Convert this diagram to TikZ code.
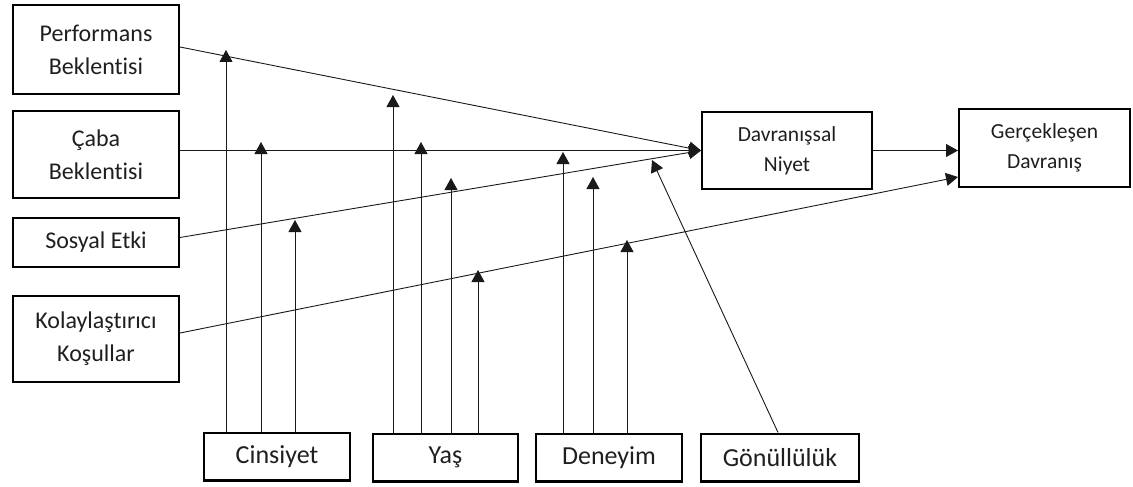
\documentclass[tikz,border=0pt]{standalone}
\usepackage{fontspec}
\setmainfont{Carlito}[Ligatures={NoCommon}]
\usetikzlibrary{arrows.meta,calc}
\begin{document}
\begin{tikzpicture}[x=1pt,y=-1pt,
 box/.style={draw,line width=2.4pt,inner sep=0pt,align=center,text=black!88},
 lbox/.style={box,font=\fontsize{24}{33}\selectfont,minimum width=165.6pt},
 rbox/.style={box,font=\fontsize{21.5}{30}\selectfont},
 bbox/.style={box,font=\fontsize{26}{30}\selectfont,minimum height=47.6pt},
 conn/.style={line width=0.9pt,black!90,-{Triangle[width=13pt,length=12pt]}},
 ]
\useasboundingbox (0,0) rectangle (1133,487);
% left boxes
\node[lbox,minimum height=88.6pt] (pb) at (96,49.5) {Performans\\Beklentisi};
\node[lbox,minimum height=86.6pt] (cb) at (96,154.5) {Çaba\\Beklentisi};
\node[lbox,minimum height=48.6pt] (se) at (96,242.5) {Sosyal Etki};
\node[lbox,minimum height=85.6pt] (ko) at (96,339) {Kolaylaştırıcı\\Koşullar};
% right boxes
\node[rbox,minimum width=169.6pt,minimum height=76.6pt] (dn) at (787,150.5) {Davranışsal\\Niyet};
\node[rbox,minimum width=170.6pt,minimum height=77.6pt] (gd) at (1044.5,148) {Gerçekleşen\\Davranış};
% bottom boxes
\node[bbox,minimum width=145.6pt] (cin) at (277,456.5) {Cinsiyet};
\node[bbox,minimum width=144.6pt] (yas) at (445.5,457.5) {Yaş};
\node[bbox,minimum width=145.6pt] (den) at (609,457.5) {Deneyim};
\node[bbox,minimum width=157.6pt] (gon) at (780,457.5) {Gönüllülük};
% main connectors
\draw[conn] ($(pb.east)+(0,-2.5)$) -- (dn.west);
\draw[conn] (cb.east |- dn.west) -- (dn.west);
\draw[conn] ($(se.east)+(0,-5)$) -- (dn.west);
\draw[conn] ($(ko.east)+(0,-6)$) -- ($(gd.west)+(0,29)$);
\draw[conn] (dn.east) -- (dn.east -| gd.west);
% moderator tips
\coordinate (c1) at (226,50);
\coordinate (c2) at (261,142);
\coordinate (c3) at (295,220);
\coordinate (y1) at (393,95);
\coordinate (y2) at (421,142);
\coordinate (y3) at (451,178);
\coordinate (y4) at (478,270);
\coordinate (d1) at (563,152);
\coordinate (d2) at (593,177);
\coordinate (d3) at (627,240);
\coordinate (g1) at (652,160);
\draw[conn] (cin.north -| c1) -- (c1);
\draw[conn] (cin.north -| c2) -- (c2);
\draw[conn] (cin.north -| c3) -- (c3);
\draw[conn] (yas.north -| y1) -- (y1);
\draw[conn] (yas.north -| y2) -- (y2);
\draw[conn] (yas.north -| y3) -- (y3);
\draw[conn] (yas.north -| y4) -- (y4);
\draw[conn] (den.north -| d1) -- (d1);
\draw[conn] (den.north -| d2) -- (d2);
\draw[conn] (den.north -| d3) -- (d3);
\draw[conn] ($(gon.north)+(-2,0)$) -- (g1);
\end{tikzpicture}
\end{document}
